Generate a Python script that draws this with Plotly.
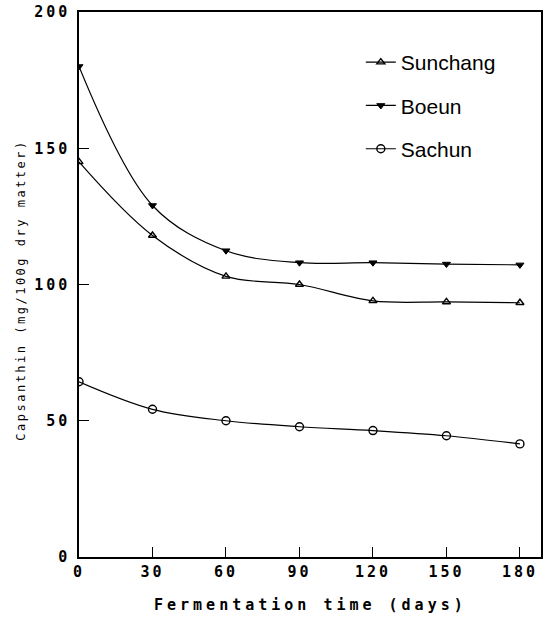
import plotly.graph_objects as go

# Fermentation time (days)
days = [0, 30, 60, 90, 120, 150, 180]

# Capsanthin content (mg/100g dry matter) per pepper cultivar
sunchang = [145, 118, 103, 100, 94, 93.6, 93.3]
boeun = [180, 129, 112.4, 108, 108, 107.5, 107.2]
sachun = [64.3, 54.2, 50, 47.8, 46.4, 44.5, 41.5]

x_ticks = [0, 30, 60, 90, 120, 150, 180]
y_ticks = [0, 50, 100, 150, 200]

x_title = "Fermentation time (days)"
y_title = "Capsanthin (mg/100g dry matter)"

series = [
    ("Sunchang", sunchang, dict(symbol="triangle-up-open", size=7, color="black", line=dict(width=1.4, color="black"))),
    ("Boeun", boeun, dict(symbol="triangle-down", size=7, color="black", line=dict(width=1, color="black"))),
    ("Sachun", sachun, dict(symbol="circle-open", size=8, color="black", line=dict(width=1.4, color="black"))),
]

fig = go.Figure()
for i, (name, vals, marker) in enumerate(series):
    fig.add_trace(go.Scatter(
        x=days, y=vals, name=name, mode="lines+markers",
        line=dict(color="black", width=1.2, shape="spline", smoothing=1.0),
        marker=marker, legendgroup=f"g{i}",
    ))

mono = "DejaVu Sans Mono"
axis_common = dict(
    ticks="inside", ticklen=10, tickwidth=1, tickcolor="black",
    showline=True, linecolor="black", linewidth=1.5, mirror=True,
    showgrid=False, zeroline=False, automargin=False,
    tickfont=dict(family=mono, size=15, color="black", weight="bold"),
)

fig.update_layout(
    width=552, height=619,
    margin=dict(l=79, r=11, t=12, b=62),
    paper_bgcolor="white", plot_bgcolor="white",
    showlegend=True,
    legend=dict(
        x=0.61, y=0.945, xanchor="left", yanchor="top",
        bgcolor="rgba(0,0,0,0)", borderwidth=0,
        font=dict(family="Liberation Sans, Arial, sans-serif", size=21, color="black"),
        tracegroupgap=13, itemwidth=30,
    ),
    xaxis=dict(range=[0, 188.6], tickvals=x_ticks, ticktext=[str(v) for v in x_ticks], **axis_common),
    yaxis=dict(range=[0, 200], tickvals=y_ticks, ticktext=[str(v) for v in y_ticks],
               ticklabelstandoff=4, **axis_common),
    annotations=[
        dict(text=x_title, xref="paper", yref="paper", x=0.5, y=0,
             xanchor="center", yanchor="middle", yshift=-48, showarrow=False,
             font=dict(family=mono, size=15, color="black", weight="bold")),
        dict(text=y_title, xref="paper", yref="paper", x=0, y=0.49,
             xanchor="center", yanchor="middle", xshift=-58, textangle=-90, showarrow=False,
             font=dict(family=mono, size=12, color="black")),
    ],
)

# Widen letter spacing of the typewriter-style labels
spacing_js = """
var gd = document.getElementById('{plot_id}');
function sp(sel, v) { gd.querySelectorAll(sel).forEach(function(t) { t.style.letterSpacing = v; }); }
sp('.xtick text', '3px');
sp('.ytick text', '3px');
var ann = gd.querySelectorAll('.annotation-text');
if (ann.length > 1) { ann[0].style.letterSpacing = '4px'; ann[1].style.letterSpacing = '2.5px'; }
"""

fig.write_html("out.html", post_script=spacing_js)
